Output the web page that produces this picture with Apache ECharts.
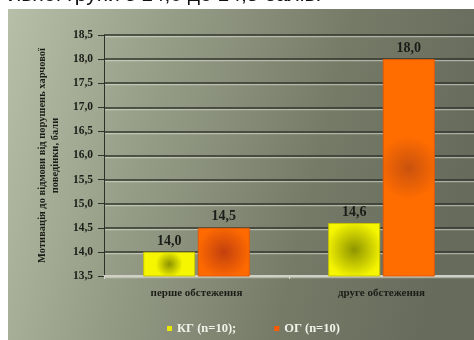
<!DOCTYPE html>
<html>
<head>
<meta charset="utf-8">
<script src="https://cdn.jsdelivr.net/npm/echarts@6/dist/echarts.min.js"></script>
<style>
  html, body { margin: 0; padding: 0; background: #fff; }
  #chart { width: 474px; height: 340px; }
</style>
</head>
<body>
<div id="chart"></div>
<script>
// дані діаграми
const categories = ['перше обстеження', 'друге обстеження'];
const kgValues = [14.0, 14.6];
const ogValues = [14.5, 18.0];
const seriesNames = ['КГ (n=10);', 'ОГ (n=10)'];
const yTicks = { min: 13.5, max: 18.5, step: 0.5 };

const serif = '"Liberation Serif", "DejaVu Serif", serif';
const ink = '#1c1d18';

function fmt(v) {
  return v.toFixed(1).replace('.', ',');
}

function radial(inner, outer, r) {
  return new echarts.graphic.RadialGradient(0.5, 0.5, r || 0.55, [
    { offset: 0, color: inner },
    { offset: 1, color: outer }
  ]);
}

let chart = echarts.init(document.getElementById('chart'));

const valueLabel = {
  show: true,
  position: 'top',
  distance: 4,
  fontFamily: serif,
  fontWeight: 'bold',
  fontSize: 14,
  color: ink,
  formatter: p => fmt(p.value)
};

// високий стовпчик має слабшу темну пляму в центрі
const ogData = ogValues.map((v, i) => ({
  value: v,
  itemStyle: {
    color: i == 0 ? radial('#c2400e', '#ff6a00') : radial('#c9520e', '#ff6c00', 0.6)
  }
}));

chart.setOption({
  backgroundColor: '#fff',
  animation: false,
  graphic: [
    {
      type: 'rect',
      shape: { x: 8, y: 9, width: 466, height: 331 },
      style: {
        fill: new echarts.graphic.LinearGradient(0, 0, 1, 0.35, [
          { offset: 0, color: '#b7bfa8' },
          { offset: 0.35, color: '#959c86' },
          { offset: 0.7, color: '#767b68' },
          { offset: 1, color: '#676b5c' }
        ])
      },
      z: -10
    },
    {
      type: 'text',
      left: 9,
      top: -15,
      style: {
        text: 'льної групи з 14,0 до 14,5 балів.',
        font: '21px "Liberation Sans", Arial, sans-serif',
        fill: '#111'
      }
    }
  ],
  grid: { left: 104, right: 0, top: 35, bottom: 64 },
  legend: {
    top: 317,
    left: 162,
    itemWidth: 5,
    itemHeight: 5,
    itemGap: 38,
    icon: 'rect',
    textStyle: { fontFamily: serif, fontWeight: 'bold', fontSize: 12.5, color: '#f2f2ea' },
    data: [
      { name: seriesNames[0], itemStyle: { color: '#e8e800', borderWidth: 0 } },
      { name: seriesNames[1], itemStyle: { color: '#ff5a00', borderWidth: 0 } }
    ]
  },
  xAxis: {
    type: 'category',
    data: categories,
    axisLine: { lineStyle: { color: '#cfd0c6', width: 2 } },
    axisTick: { show: true, length: 3, lineStyle: { color: '#d8d8d0' } },
    axisLabel: { margin: 12, fontFamily: serif, fontWeight: 'bold', fontSize: 11, color: ink }
  },
  yAxis: {
    type: 'value',
    min: yTicks.min,
    max: yTicks.max,
    interval: yTicks.step,
    name: 'Мотивація до відмови від порушень харчової\nповедінки, бали',
    nameLocation: 'middle',
    nameRotate: 90,
    nameGap: 35,
    nameTextStyle: { fontFamily: serif, fontWeight: 'bold', fontSize: 10.5, color: ink, lineHeight: 13 },
    axisLine: { show: true, lineStyle: { color: '#2e3029', width: 1 } },
    axisTick: { show: true, length: 6, lineStyle: { color: '#2e3029' } },
    axisLabel: {
      margin: 11,
      fontFamily: serif,
      fontWeight: 'bold',
      fontSize: 11.5,
      color: ink,
      formatter: fmt
    },
    splitLine: {
      lineStyle: {
        color: '#33362d',
        width: 1.5,
        shadowColor: 'rgba(225,228,215,0.55)',
        shadowOffsetY: 1.5
      }
    }
  },
  series: [
    {
      name: seriesNames[0],
      type: 'bar',
      data: kgValues,
      barWidth: 52,
      barGap: '5%',
      itemStyle: {
        color: radial('#8e9400', '#f6f600'),
        borderColor: '#c8c400',
        borderWidth: 1
      },
      label: valueLabel
    },
    {
      name: seriesNames[1],
      type: 'bar',
      data: ogData,
      barWidth: 52,
      itemStyle: {
        color: '#ff6a00',
        borderColor: '#e05a08',
        borderWidth: 1
      },
      label: valueLabel
    }
  ]
});
</script>
</body>
</html>
